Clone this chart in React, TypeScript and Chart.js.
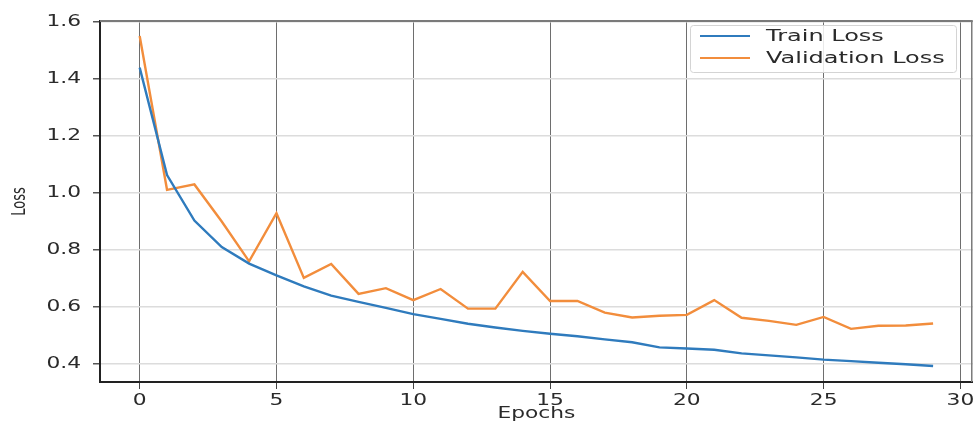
import React, { useEffect, useRef } from "react";
import { Chart, registerables } from "chart.js";

Chart.register(...registerables);

const epochs = [0, 1, 2, 3, 4, 5, 6, 7, 8, 9, 10, 11, 12, 13, 14, 15, 16, 17, 18, 19, 20, 21, 22, 23, 24, 25, 26, 27, 28, 29];
const trainLoss = [1.44, 1.063, 0.903, 0.81, 0.752, 0.711, 0.672, 0.64, 0.618, 0.597, 0.575, 0.558, 0.541, 0.528, 0.516, 0.506, 0.497, 0.486, 0.476, 0.458, 0.454, 0.45, 0.437, 0.43, 0.423, 0.415, 0.41, 0.404, 0.399, 0.393];
const valLoss = [1.551, 1.011, 1.03, 0.9, 0.76, 0.929, 0.702, 0.751, 0.646, 0.666, 0.624, 0.663, 0.594, 0.594, 0.723, 0.621, 0.621, 0.58, 0.563, 0.569, 0.572, 0.624, 0.562, 0.551, 0.537, 0.565, 0.523, 0.534, 0.535, 0.542];
const seriesNames = ["Train Loss", "Validation Loss"];
const xTicks = [0, 5, 10, 15, 20, 25, 30];
const yTicks = [0.4, 0.6, 0.8, 1.0, 1.2, 1.4, 1.6];
const xTitle = "Epochs";
const yTitle = "Loss";

const FONT = "'DejaVu Sans', sans-serif";
let textStretch = 1.45;

function patchContext(ctx: any) {
  if (ctx.__patched) return;
  ctx.__patched = true;
  const orig = ctx.fillText;
  ctx.fillText = function (text: string, x: number, y: number, maxWidth?: number) {
    this.save();
    this.translate(x, y);
    const m = this.getTransform();
    if (Math.abs(m.b) > 0.5) this.scale(1, textStretch);
    else this.scale(textStretch, 1);
    if (maxWidth === undefined) orig.call(this, text, 0, 0);
    else orig.call(this, text, 0, 0, maxWidth / textStretch);
    this.restore();
  };
}

const framePlugin = {
  id: "frame",
  afterDraw(chart: any) {
    const { ctx, chartArea } = chart;
    const { left, right, top, bottom } = chartArea;
    ctx.save();
    ctx.strokeStyle = "#7a7a7a";
    ctx.lineWidth = 2;
    ctx.beginPath();
    ctx.moveTo(left, top);
    ctx.lineTo(right, top);
    ctx.stroke();
    ctx.lineWidth = 1.5;
    ctx.beginPath();
    ctx.moveTo(right - 1, top);
    ctx.lineTo(right - 1, bottom);
    ctx.stroke();

    // legend
    const bx = 690, by = 25, bw = 266, bh = 47;
    ctx.fillStyle = "rgba(255,255,255,0.85)";
    ctx.strokeStyle = "#d4d4d4";
    ctx.lineWidth = 1;
    ctx.beginPath();
    ctx.roundRect(bx + 0.5, by + 0.5, bw, bh, 3);
    ctx.fill();
    ctx.stroke();
    const rows = [36, 58];
    chart.data.datasets.forEach((ds: any, i: number) => {
      const y = rows[i];
      ctx.strokeStyle = ds.borderColor;
      ctx.lineWidth = 2;
      ctx.beginPath();
      ctx.moveTo(700, y);
      ctx.lineTo(750, y);
      ctx.stroke();
      ctx.fillStyle = "#2a2a2a";
      ctx.font = `15px ${FONT}`;
      ctx.textAlign = "left";
      ctx.textBaseline = "middle";
      textStretch = 1.6;
      ctx.fillText(ds.label, 766, y + 1);
      textStretch = 1.45;
    });
    ctx.restore();
  },
};

export default function App() {
  const ref = useRef<HTMLCanvasElement>(null);
  useEffect(() => {
    document.body.style.margin = "0";
    const canvas = ref.current!;
    const ctx = canvas.getContext("2d")!;
    patchContext(ctx);
    const chart = new Chart(ctx, {
      type: "line",
      data: {
        datasets: [
          {
            label: seriesNames[0],
            data: epochs.map((e, i) => ({ x: e, y: trainLoss[i] })),
            borderColor: "#2f7bbd",
            backgroundColor: "#2f7bbd",
            borderWidth: 2.4,
            pointRadius: 0,
            tension: 0,
          },
          {
            label: seriesNames[1],
            data: epochs.map((e, i) => ({ x: e, y: valLoss[i] })),
            borderColor: "#f28d3c",
            backgroundColor: "#f28d3c",
            borderWidth: 2.4,
            pointRadius: 0,
            tension: 0,
          },
        ],
      },
      plugins: [framePlugin],
      options: {
        animation: false,
        responsive: false,
        layout: { padding: { top: 19, left: 0, right: 0, bottom: 0 } },
        plugins: { legend: { display: false }, tooltip: { enabled: false } },
        scales: {
          x: {
            type: "linear",
            min: -1.45,
            max: 30.45,
            afterBuildTicks: (axis: any) => {
              axis.ticks = xTicks.map((v) => ({ value: v }));
            },
            afterFit: (axis: any) => {
              axis.height = 41;
            },
            ticks: {
              autoSkip: false,
              maxRotation: 0,
              padding: 3,
              color: "#2a2a2a",
              font: { family: FONT, size: 15 },
              callback: (v: any) => String(v),
            },
            grid: {
              color: "#6e6e6e",
              lineWidth: 1,
              tickLength: 7,
              tickColor: "#444",
            },
            border: { display: true, color: "#222", width: 2 },
            title: {
              display: true,
              text: xTitle,
              color: "#2a2a2a",
              font: { family: FONT, size: 15 },
              padding: { top: 0, bottom: 0 },
            },
          },
          y: {
            type: "linear",
            min: 0.3366,
            max: 1.6035,
            afterBuildTicks: (axis: any) => {
              axis.ticks = yTicks.map((v) => ({ value: v }));
            },
            afterFit: (axis: any) => {
              axis.width = 100;
            },
            ticks: {
              padding: 12,
              color: "#2a2a2a",
              font: { family: FONT, size: 15 },
              callback: (v: any) => Number(v).toFixed(1),
            },
            grid: {
              color: "#dcdcdc",
              lineWidth: 1.5,
              tickLength: 7,
              tickColor: "#555",
            },
            border: { display: true, color: "#222", width: 2 },
            title: {
              display: true,
              text: yTitle,
              color: "#2a2a2a",
              font: { family: FONT, size: 13 },
              padding: { top: 12, bottom: 0 },
            },
          },
        },
      },
    });
    return () => chart.destroy();
  }, []);
  return <canvas ref={ref} width={973} height={423} style={{ display: "block" }} />;
}
